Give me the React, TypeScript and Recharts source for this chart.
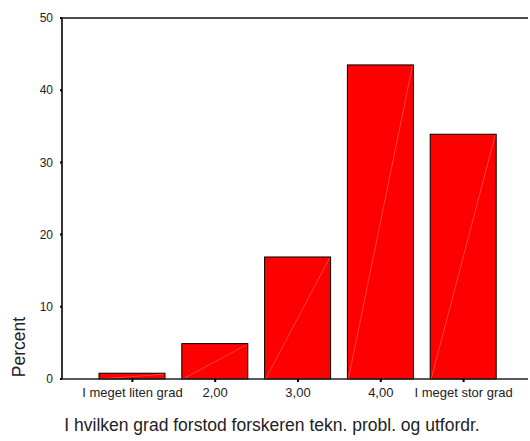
import React from 'react';
import { BarChart, Bar, XAxis, YAxis, ReferenceLine, Label } from 'recharts';

const categories = ['I meget liten grad', '2,00', '3,00', '4,00', 'I meget stor grad'];
const percents = [0.8, 4.9, 16.9, 43.5, 33.9];
const yTicks = [0, 10, 20, 30, 40, 50];

const data = categories.map((c, i) => ({ name: c, value: percents[i] }));

const FONT = '"Liberation Sans", Arial, sans-serif';

const BarShape = (props: any) => {
  const { x, y, width, height } = props;
  if (height <= 0) return null;
  return (
    <g>
      <rect x={x} y={y} width={width} height={height} fill="#ff0000" stroke="#000" strokeWidth={1} />
      <line x1={x + 1} y1={y + height} x2={x + width - 1} y2={y + 1} stroke="#ff9a9a" strokeWidth={0.6} opacity={0.7} />
    </g>
  );
};

export default function App() {
  return (
    <div style={{ position: 'absolute', left: 0, top: 0, width: 530, height: 441, background: '#fff' }}>
      <BarChart width={530} height={441} data={data} margin={{ top: 18, right: 2, bottom: 0, left: 0 }} barCategoryGap={0}>
        <YAxis
          type="number"
          domain={[0, 50]}
          ticks={yTicks}
          width={62}
          axisLine={{ stroke: '#333', strokeWidth: 2 }}
          tickLine={{ stroke: '#000', strokeWidth: 2 }}
          tickSize={2}
          tickMargin={7}
          tick={{ fontFamily: FONT, fontSize: 12, fill: '#222' }}
          interval={0}
        >
          <Label
            content={() => (
              <text x={25} y={347} transform="rotate(-90 25 347)" textAnchor="middle" fontFamily={FONT} fontSize={17.5} fill="#222">
                Percent
              </text>
            )}
          />
        </YAxis>
        <XAxis
          dataKey="name"
          height={62}
          padding={{ left: 29, right: 23 }}
          axisLine={{ stroke: '#222', strokeWidth: 1.5 }}
          tickLine={{ stroke: '#000', strokeWidth: 2 }}
          tickSize={3}
          tickMargin={6}
          tick={{ fontFamily: FONT, fontSize: 13, fill: '#222' }}
          interval={0}
        >
          <Label
            content={() => (
              <text x={272} y={431} textAnchor="middle" fontFamily={FONT} fontSize={17.5} fill="#222">
                I hvilken grad forstod forskeren tekn. probl. og utfordr.
              </text>
            )}
          />
        </XAxis>
        <ReferenceLine y={50} stroke="#111" strokeWidth={1.5} />
        <Bar dataKey="value" barSize={66} shape={<BarShape />} isAnimationActive={false} />
      </BarChart>
    </div>
  );
}
